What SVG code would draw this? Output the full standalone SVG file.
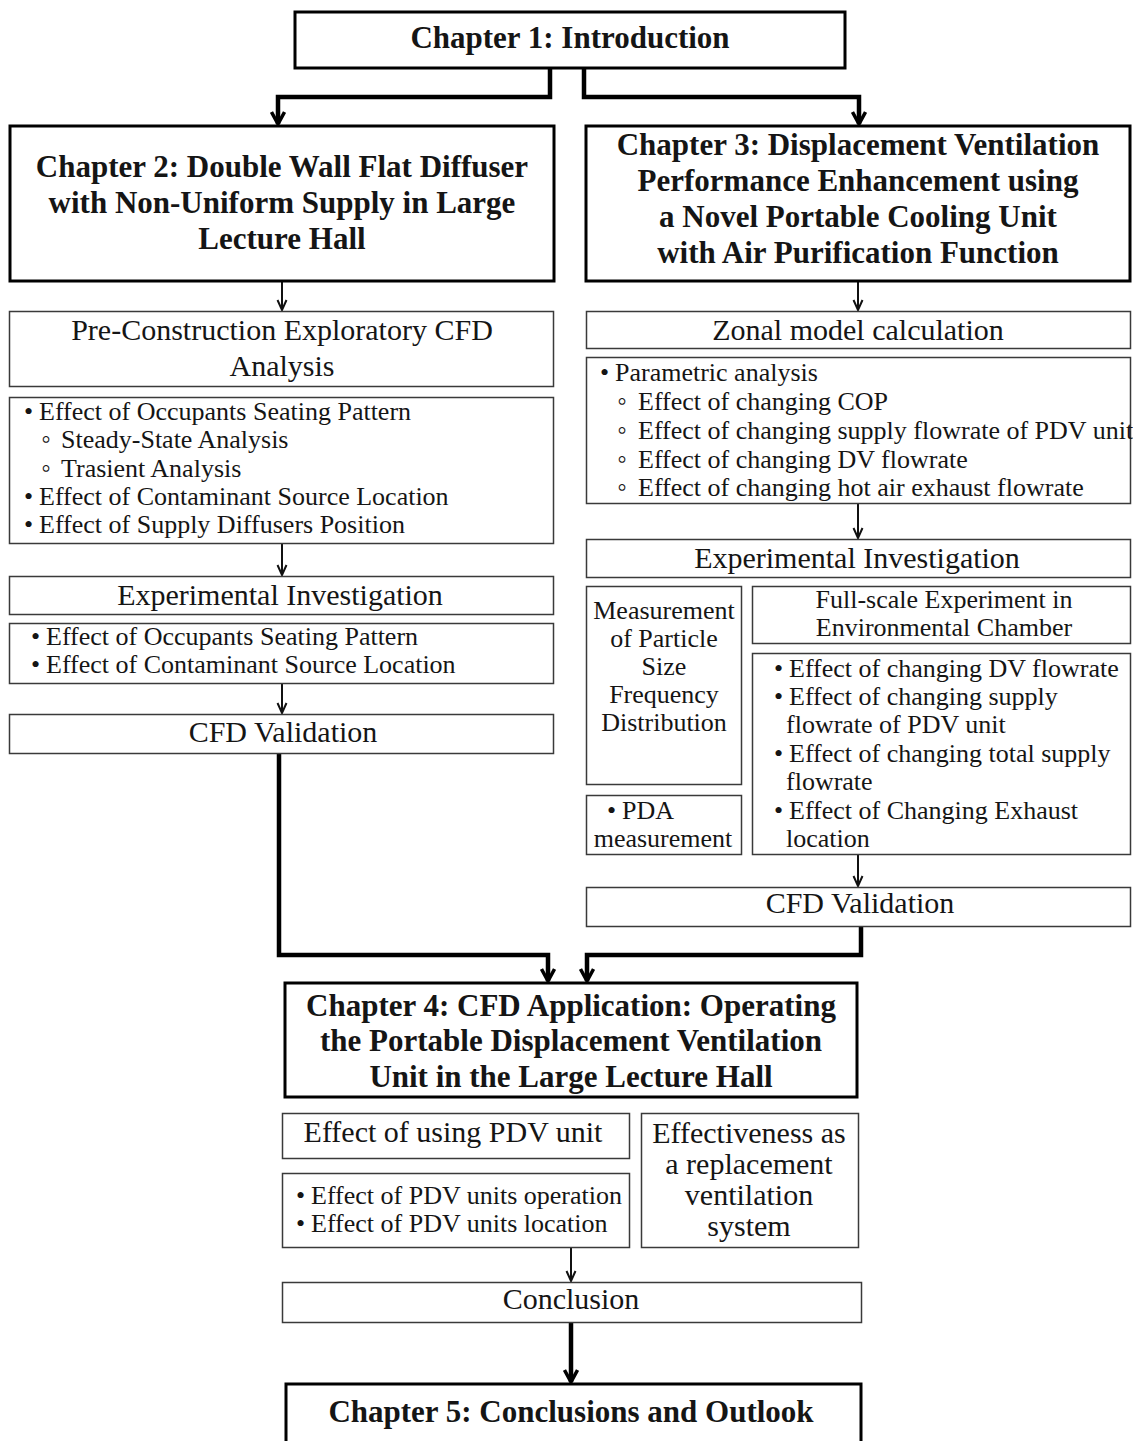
<svg xmlns="http://www.w3.org/2000/svg" width="1133" height="1441" viewBox="0 0 1133 1441">
<style>
.bg{fill:#ffffff}
.thick{fill:#ffffff;stroke:#000000;stroke-width:3}
.thin{fill:#ffffff;stroke:#3a3a3a;stroke-width:1.5}
.t{font-family:"Liberation Serif","Times New Roman",serif;fill:#151515}
.hb{font-size:31px;font-weight:bold;text-anchor:middle}
.h{font-size:30px;text-anchor:middle}
.b{font-size:26px}
.c{font-size:26px;text-anchor:middle}
.e{font-size:30px;text-anchor:middle}
.sb{font-size:28px}
.lk{fill:none;stroke:#000000;stroke-width:4.5;stroke-linejoin:miter}
.ln{fill:none;stroke:#111111;stroke-width:2}
</style>
<defs>
<marker id="ak" viewBox="0 0 16 16" refX="14" refY="8" markerWidth="16" markerHeight="16" markerUnits="userSpaceOnUse" orient="auto">
<path d="M2,1.5 L14,8 L2,14.5" fill="none" stroke="#000" stroke-width="3.5" stroke-linejoin="miter"/>
</marker>
<marker id="an" viewBox="0 0 12 12" refX="11" refY="6" markerWidth="12" markerHeight="12" markerUnits="userSpaceOnUse" orient="auto">
<path d="M1,1.5 L11,6 L1,10.5" fill="none" stroke="#111" stroke-width="2"/>
</marker>
</defs>
<rect class="bg" x="0" y="0" width="1133" height="1441"/>

<g id="connectors">
<polyline class="lk" points="550,68 550,97 278,97 278,124" marker-end="url(#ak)"/>
<polyline class="lk" points="584,68 584,97 859,97 859,124" marker-end="url(#ak)"/>
<line class="ln" x1="282" y1="282" x2="282" y2="310" marker-end="url(#an)"/>
<line class="ln" x1="858" y1="282" x2="858" y2="310" marker-end="url(#an)"/>
<line class="ln" x1="282" y1="544" x2="282" y2="575" marker-end="url(#an)"/>
<line class="ln" x1="282" y1="684" x2="282" y2="713" marker-end="url(#an)"/>
<line class="ln" x1="858" y1="504" x2="858" y2="538" marker-end="url(#an)"/>
<line class="ln" x1="858" y1="855" x2="858" y2="886" marker-end="url(#an)"/>
<polyline class="lk" points="279,754 279,955 548,955 548,981" marker-end="url(#ak)"/>
<polyline class="lk" points="861,927 861,955 587,955 587,981" marker-end="url(#ak)"/>
<line class="ln" x1="571" y1="1248" x2="571" y2="1281" marker-end="url(#an)"/>
<line class="lk" x1="571" y1="1323" x2="571" y2="1382" marker-end="url(#ak)"/>
</g>

<g id="ch1">
<rect class="thick" x="295" y="12" width="550" height="56"/>
<text class="t hb" x="570" y="48">Chapter 1: Introduction</text>
</g>

<g id="ch2">
<rect class="thick" x="10" y="126" width="544" height="155"/>
<text class="t hb" x="282" y="177">Chapter 2: Double Wall Flat Diffuser</text>
<text class="t hb" x="282" y="213">with Non-Uniform Supply in Large</text>
<text class="t hb" x="282" y="249">Lecture Hall</text>
</g>

<g id="ch3">
<rect class="thick" x="586" y="126" width="544" height="155"/>
<text class="t hb" x="858" y="155">Chapter 3: Displacement Ventilation</text>
<text class="t hb" x="858" y="191">Performance Enhancement using</text>
<text class="t hb" x="858" y="227">a Novel Portable Cooling Unit</text>
<text class="t hb" x="858" y="263">with Air Purification Function</text>
</g>

<g id="preconstruction">
<rect class="thin" x="9.5" y="311.5" width="544" height="75"/>
<text class="t h" x="282" y="340">Pre-Construction Exploratory CFD</text>
<text class="t h" x="282" y="376">Analysis</text>
</g>

<g id="pre-bullets">
<rect class="thin" x="9.5" y="397.5" width="544" height="146"/>
<text class="t b" y="420"><tspan x="24">•</tspan><tspan x="39">Effect of Occupants Seating Pattern</tspan></text>
<text class="t b" y="448"><tspan x="41" class="sb">◦</tspan><tspan x="61">Steady-State Analysis</tspan></text>
<text class="t b" y="477"><tspan x="41" class="sb">◦</tspan><tspan x="61">Trasient Analysis</tspan></text>
<text class="t b" y="505"><tspan x="24">•</tspan><tspan x="39">Effect of Contaminant Source Location</tspan></text>
<text class="t b" y="533"><tspan x="24">•</tspan><tspan x="39">Effect of Supply Diffusers Position</tspan></text>
</g>

<g id="exp-left">
<rect class="thin" x="9.5" y="576.5" width="544" height="38"/>
<text class="t h" x="280" y="605">Experimental Investigation</text>
</g>

<g id="exp-left-bullets">
<rect class="thin" x="9.5" y="623.5" width="544" height="60"/>
<text class="t b" y="645"><tspan x="31">•</tspan><tspan x="46">Effect of Occupants Seating Pattern</tspan></text>
<text class="t b" y="673"><tspan x="31">•</tspan><tspan x="46">Effect of Contaminant Source Location</tspan></text>
</g>

<g id="cfd-left">
<rect class="thin" x="9.5" y="714.5" width="544" height="39"/>
<text class="t h" x="283" y="742">CFD Validation</text>
</g>

<g id="zonal">
<rect class="thin" x="586.5" y="311.5" width="544" height="37"/>
<text class="t h" x="858" y="340">Zonal model calculation</text>
</g>

<g id="parametric">
<rect class="thin" x="586.5" y="357.5" width="544" height="146"/>
<text class="t b" y="381"><tspan x="600">•</tspan><tspan x="615">Parametric analysis</tspan></text>
<text class="t b" y="410"><tspan x="617" class="sb">◦</tspan><tspan x="638">Effect of changing COP</tspan></text>
<text class="t b" y="439"><tspan x="617" class="sb">◦</tspan><tspan x="638">Effect of changing supply flowrate of PDV unit</tspan></text>
<text class="t b" y="468"><tspan x="617" class="sb">◦</tspan><tspan x="638">Effect of changing DV flowrate</tspan></text>
<text class="t b" y="496"><tspan x="617" class="sb">◦</tspan><tspan x="638">Effect of changing hot air exhaust flowrate</tspan></text>
</g>

<g id="exp-right">
<rect class="thin" x="586.5" y="539.5" width="544" height="38"/>
<text class="t h" x="857" y="568">Experimental Investigation</text>
</g>

<g id="measurement">
<rect class="thin" x="586.5" y="586.5" width="155" height="198"/>
<text class="t c" x="664" y="619">Measurement</text>
<text class="t c" x="664" y="647">of Particle</text>
<text class="t c" x="664" y="675">Size</text>
<text class="t c" x="664" y="703">Frequency</text>
<text class="t c" x="664" y="731">Distribution</text>
</g>

<g id="pda">
<rect class="thin" x="586.5" y="795.5" width="155" height="59"/>
<text class="t b" y="819"><tspan x="607">•</tspan><tspan x="622">PDA</tspan></text>
<text class="t c" x="663" y="847">measurement</text>
</g>

<g id="fullscale">
<rect class="thin" x="752.5" y="586.5" width="378" height="57"/>
<text class="t c" x="944" y="608">Full-scale Experiment in</text>
<text class="t c" x="944" y="636">Environmental Chamber</text>
</g>

<g id="fullscale-bullets">
<rect class="thin" x="752.5" y="653.5" width="378" height="201"/>
<text class="t b" y="677"><tspan x="774">•</tspan><tspan x="789">Effect of changing DV flowrate</tspan></text>
<text class="t b" y="705"><tspan x="774">•</tspan><tspan x="789">Effect of changing supply</tspan></text>
<text class="t b" y="733"><tspan x="786">flowrate of PDV unit</tspan></text>
<text class="t b" y="762"><tspan x="774">•</tspan><tspan x="789">Effect of changing total supply</tspan></text>
<text class="t b" y="790"><tspan x="786">flowrate</tspan></text>
<text class="t b" y="819"><tspan x="774">•</tspan><tspan x="789">Effect of Changing Exhaust</tspan></text>
<text class="t b" y="847"><tspan x="786">location</tspan></text>
</g>

<g id="cfd-right">
<rect class="thin" x="586.5" y="887.5" width="544" height="39"/>
<text class="t h" x="860" y="913">CFD Validation</text>
</g>

<g id="ch4">
<rect class="thick" x="285" y="983" width="572" height="114"/>
<text class="t hb" x="571" y="1016">Chapter 4: CFD Application: Operating</text>
<text class="t hb" x="571" y="1051">the Portable Displacement Ventilation</text>
<text class="t hb" x="571" y="1087">Unit in the Large Lecture Hall</text>
</g>

<g id="pdv-effect">
<rect class="thin" x="282.5" y="1113.5" width="347" height="45"/>
<text class="t h" x="453" y="1142">Effect of using PDV unit</text>
</g>

<g id="pdv-bullets">
<rect class="thin" x="282.5" y="1173.5" width="347" height="74"/>
<text class="t b" y="1204"><tspan x="296">•</tspan><tspan x="311">Effect of PDV units operation</tspan></text>
<text class="t b" y="1232"><tspan x="296">•</tspan><tspan x="311">Effect of PDV units location</tspan></text>
</g>

<g id="effectiveness">
<rect class="thin" x="641.5" y="1113.5" width="217" height="134"/>
<text class="t e" x="749" y="1143">Effectiveness as</text>
<text class="t e" x="749" y="1174">a replacement</text>
<text class="t e" x="749" y="1205">ventilation</text>
<text class="t e" x="749" y="1236">system</text>
</g>

<g id="conclusion">
<rect class="thin" x="282.5" y="1282.5" width="579" height="40"/>
<text class="t h" x="571" y="1309">Conclusion</text>
</g>

<g id="ch5">
<rect class="thick" x="286" y="1384" width="575" height="70"/>
<text class="t hb" x="571" y="1422">Chapter 5: Conclusions and Outlook</text>
</g>
</svg>
